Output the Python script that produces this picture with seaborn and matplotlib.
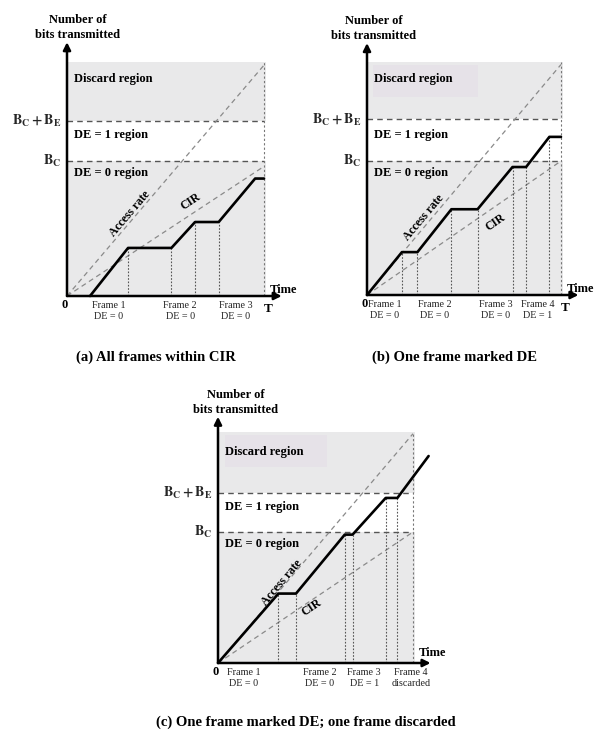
import numpy as np
import matplotlib
matplotlib.use("Agg")
import matplotlib.pyplot as plt
import seaborn as sns

sns.set_theme(style="white")
plt.rcParams['font.family'] = ['Liberation Serif', 'DejaVu Serif']
plt.rcParams['mathtext.fontset'] = 'stix'

# Units: time axis T = 1, bits axis Bc = 1

# (a) All frames within CIR
a_frame_t = [0.117, 0.31, 0.53, 0.65, 0.77, 0.955, 1.0]
a_frame_bits = [0.0, 0.356, 0.356, 0.548, 0.548, 0.87, 0.87]
a_marks_t = [0.31, 0.53, 0.65, 0.77]
a_marks_bits = [0.356, 0.356, 0.548, 0.548]
a_labels = ["Frame 1\nDE = 0", "Frame 2\nDE = 0", "Frame 3\nDE = 0"]
a_label_t = [0.21, 0.575, 0.855]

# (b) One frame marked DE
b_frame_t = [0.0, 0.18, 0.26, 0.435, 0.57, 0.75, 0.82, 0.94, 1.0]
b_frame_bits = [0.0, 0.32, 0.32, 0.64, 0.64, 0.955, 0.955, 1.18, 1.18]
b_marks_t = [0.18, 0.26, 0.435, 0.57, 0.75, 0.82, 0.94]
b_marks_bits = [0.32, 0.32, 0.64, 0.64, 0.955, 0.955, 1.18]
b_labels = ["Frame 1\nDE = 0", "Frame 2\nDE = 0", "Frame 3\nDE = 0", "Frame 4\nDE = 1"]
b_label_t = [0.09, 0.35, 0.665, 0.88]

# (c) One frame marked DE; one frame discarded
c_frame_t = [0.0, 0.31, 0.40, 0.65, 0.69, 0.86, 0.92, 1.08]
c_frame_bits = [0.0, 0.53, 0.53, 0.98, 0.98, 1.26, 1.26, 1.58]
c_marks_t = [0.31, 0.40, 0.65, 0.69, 0.86, 0.92]
c_marks_bits = [0.53, 0.53, 0.98, 0.98, 1.26, 1.26]
c_labels = ["Frame 1\nDE = 0", "Frame 2\nDE = 0", "Frame 3\nDE = 1", "Frame 4\ndiscarded"]
c_label_t = [0.13, 0.52, 0.75, 0.99]

access_top = [1.71, 1.72, 1.75]
cir_top = [0.96, 1.0, 1.0]
bcbe_level = [1.30, 1.31, 1.30]
shade_top = [1.73, 1.74, 1.76]
captions = ["(a) All frames within CIR", "(b) One frame marked DE",
            "(c) One frame marked DE; one frame discarded"]

W, H = 600, 731
fig = plt.figure(figsize=(W / 100, H / 100), dpi=100)
fig.patch.set_facecolor("white")

SHADE = "#e9e9ea"
BOLD = dict(fontweight="bold", color="black")


def panel_axes(name, ox, oy, sx, sy):
    # axes spanning the whole figure, origin placed at pixel (ox, oy)
    ax = fig.add_axes([0, 0, 1, 1], label=name)
    ax.set_xlim(-ox / sx, (W - ox) / sx)
    ax.set_ylim((oy - H) / sy, oy / sy)
    ax.axis("off")
    ax.patch.set_alpha(0)
    return ax


def draw_panel(ax, sx, sy, i, frame_t, frame_bits, marks_t, marks_bits,
               labels, label_t, title_x, access_pos, cir_pos, box=None,
               show_t=True, time_y=0.045):
    top = shade_top[i]
    bcbe = bcbe_level[i]
    ax.fill_between([0, 1.01], 0, 1.0, color=SHADE, lw=0, zorder=0)
    ax.fill_between([0, 1.01], bcbe, top, color=SHADE, lw=0, zorder=0)
    if box is not None:
        ax.fill_between([box[0], box[1]], box[2], box[3], color="#e6e2e8", lw=0, zorder=0)

    for lvl in [1.0, bcbe]:
        ax.plot([0, 1.0], [lvl, lvl], color="#555555", lw=1.0, dashes=(4, 3), zorder=1)
    ax.plot([1.0, 1.0], [0, top], color="#777777", lw=0.8, dashes=(2, 2), zorder=1)

    ax.plot([0, 1.0], [0, access_top[i]], color="#8a8a8a", lw=0.9, dashes=(4, 3), zorder=1)
    ax.plot([0, 1.0], [0, cir_top[i]], color="#8a8a8a", lw=0.9, dashes=(4, 3), zorder=1)

    for t, b in zip(marks_t, marks_bits):
        ax.plot([t, t], [0, b], color="#555555", lw=0.8, dashes=(1.5, 1.5), zorder=2)

    sns.lineplot(x=frame_t, y=frame_bits, sort=False, estimator=None,
                 color="black", lw=1.9, ax=ax, zorder=3)

    # axes arrows
    ax.annotate("", xy=(0, 1.88), xytext=(0, 0),
                arrowprops=dict(arrowstyle="-|>", lw=1.8, color="black",
                                mutation_scale=11, shrinkA=0, shrinkB=0), zorder=4)
    ax.annotate("", xy=(1.09, 0), xytext=(0, 0),
                arrowprops=dict(arrowstyle="-|>", lw=1.8, color="black",
                                mutation_scale=11, shrinkA=0, shrinkB=0), zorder=4)

    # region labels
    ax.text(0.035, 1.61, "Discard region", fontsize=9, va="center", **BOLD)
    ax.text(0.035, (1.0 + bcbe) / 2 + 0.04, "DE = 1 region", fontsize=9, va="center", **BOLD)
    ax.text(0.035, 0.91, "DE = 0 region", fontsize=9, va="center", **BOLD)
    ax.text(-0.03, bcbe, r"$\mathbf{B_C + B_E}$", fontsize=10, ha="right", va="center")
    ax.text(-0.03, 1.0, r"$\mathbf{B_C}$", fontsize=10, ha="right", va="center")

    ax.text(title_x, 1.99, "Number of\nbits transmitted", fontsize=9, ha="center",
            va="center", linespacing=1.3, **BOLD)
    ax.text(-0.01, -0.07, "0", fontsize=9, ha="center", va="center", **BOLD)
    ax.text(1.03, time_y, "Time", fontsize=9, ha="left", va="center", **BOLD)
    if show_t:
        ax.text(1.02, -0.10, "T", fontsize=9.5, ha="center", va="center", **BOLD)

    for lab, t in zip(labels, label_t):
        ax.text(t, -0.035, lab, fontsize=7.3, ha="center", va="top",
                linespacing=1.35, color="#222222")

    ang_a = np.degrees(np.arctan(access_top[i] * sy / sx))
    ang_c = np.degrees(np.arctan(cir_top[i] * sy / sx))
    ax.text(access_pos[0], access_pos[1], "Access rate", fontsize=8.5, rotation=ang_a,
            ha="center", va="center", rotation_mode="anchor", **BOLD)
    ax.text(cir_pos[0], cir_pos[1], "CIR", fontsize=8.5, rotation=ang_c,
            ha="center", va="center", rotation_mode="anchor", **BOLD)


ax_a = panel_axes("a", 67, 296, 197, 135)
draw_panel(ax_a, 197, 135, 0, a_frame_t, a_frame_bits, a_marks_t, a_marks_bits,
           a_labels, a_label_t, 0.055, (0.32, 0.61), (0.63, 0.70))

ax_b = panel_axes("b", 367, 295, 194, 134)
draw_panel(ax_b, 194, 134, 1, b_frame_t, b_frame_bits, b_marks_t, b_marks_bits,
           b_labels, b_label_t, 0.035, (0.29, 0.58), (0.66, 0.54),
           box=(0.03, 0.57, 1.48, 1.72))

ax_c = panel_axes("c", 218, 663, 195, 131)
draw_panel(ax_c, 195, 131, 2, c_frame_t, c_frame_bits, c_marks_t, c_marks_bits,
           c_labels, c_label_t, 0.09, (0.33, 0.61), (0.48, 0.42),
           box=(0.035, 0.56, 1.50, 1.74), show_t=False, time_y=0.08)

fig.text(156 / W, 1 - 357 / H, captions[0], fontsize=10.5, ha="center", va="center", **BOLD)
fig.text(455 / W, 1 - 357 / H, captions[1], fontsize=10.5, ha="center", va="center", **BOLD)
fig.text(306 / W, 1 - 722 / H, captions[2], fontsize=10.5, ha="center", va="center", **BOLD)

fig.savefig("out.png", dpi=100, facecolor="white")
